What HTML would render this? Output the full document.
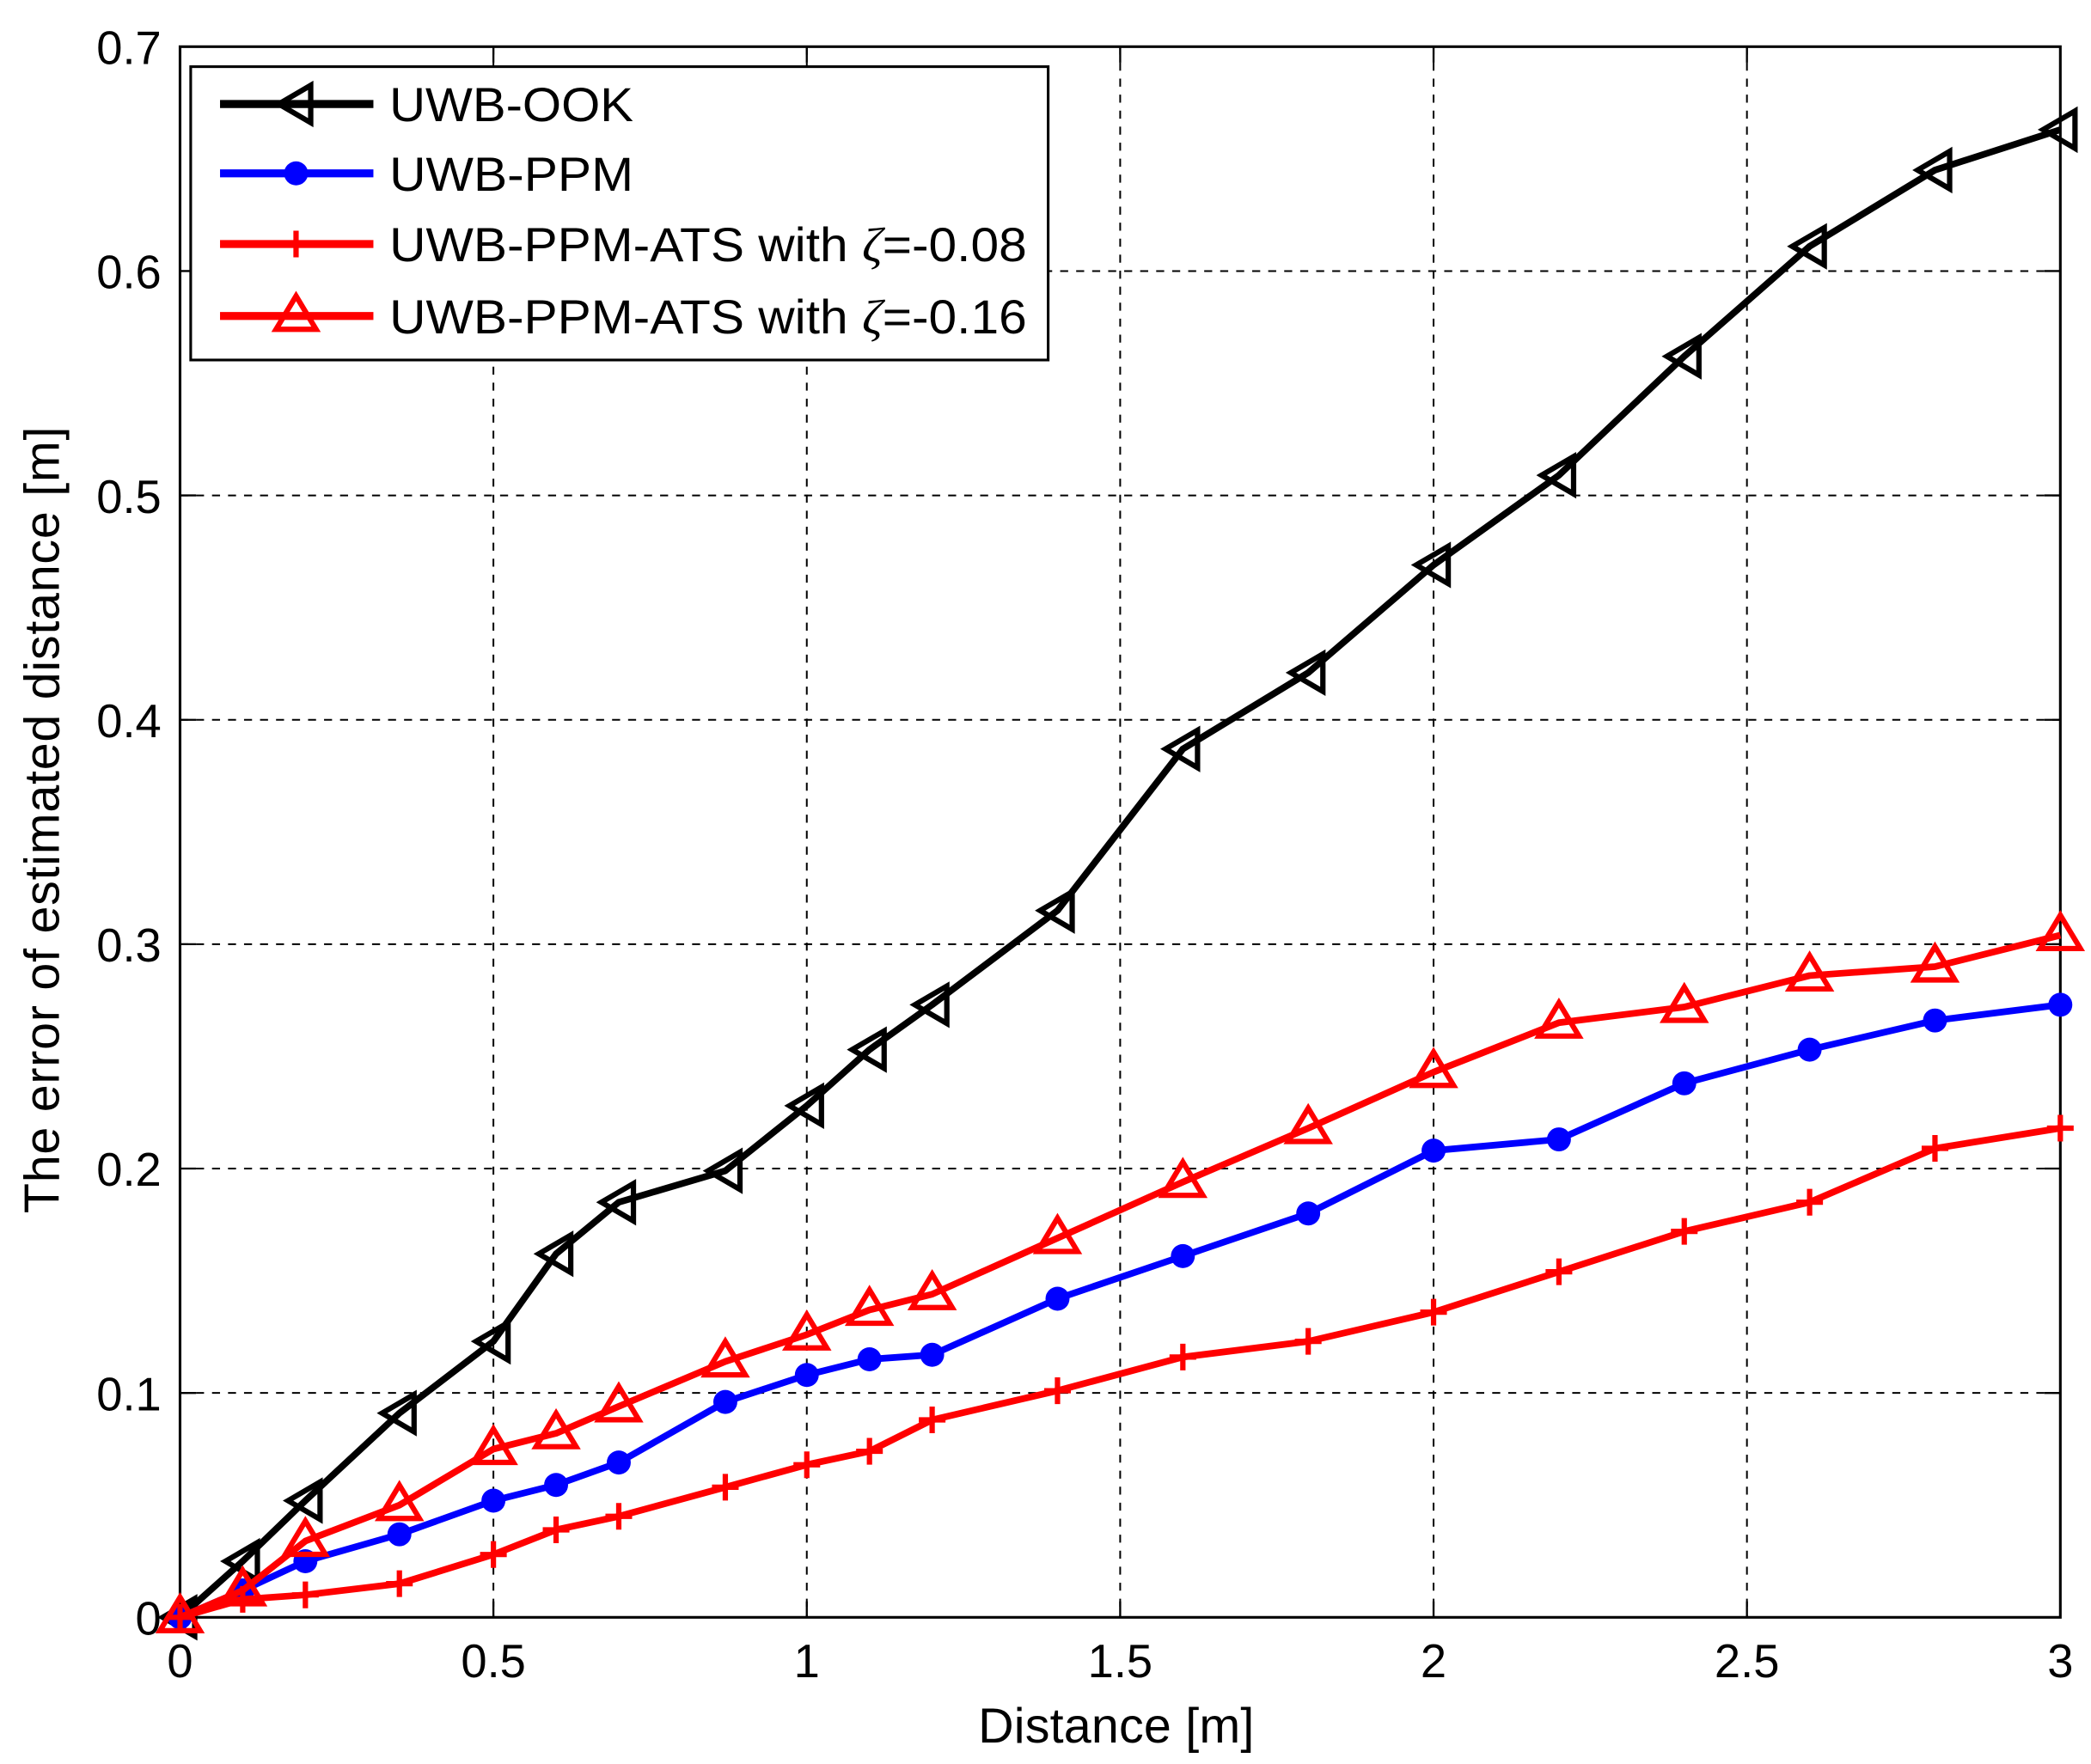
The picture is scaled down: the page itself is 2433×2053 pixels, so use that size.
<!DOCTYPE html>
<html><head><meta charset="utf-8"><style>
html,body{margin:0;padding:0;background:#fff;}
svg{display:block;}
text{font-family:"Liberation Sans",sans-serif;fill:#000;}
</style></head><body>
<svg id="s" width="2433" height="2053" viewBox="0 0 1568 1323" preserveAspectRatio="none" xmlns="http://www.w3.org/2000/svg"></svg>
<script>
const L=135,R=1545,T=35,B=1213;
const X=v=>L+(R-L)*v/3, Y=v=>B-(B-T)*v/0.7;
let h='';
for(let i=1;i<6;i++){let x=X(i*0.5);h+=`<line x1="${x}" y1="${T}" x2="${x}" y2="${B}" stroke="#000" stroke-width="1.3" stroke-dasharray="6,6"/>`;}
for(let i=1;i<7;i++){let y=Y(i*0.1);h+=`<line x1="${L}" y1="${y}" x2="${R}" y2="${y}" stroke="#000" stroke-width="1.3" stroke-dasharray="6,6"/>`;}
h+=`<rect x="${L}" y="${T}" width="${R-L}" height="${B-T}" fill="none" stroke="#000" stroke-width="2"/>`;
for(let i=0;i<=6;i++){let x=X(i*0.5);h+=`<line x1="${x}" y1="${B}" x2="${x}" y2="${B-12}" stroke="#000" stroke-width="1.5"/><line x1="${x}" y1="${T}" x2="${x}" y2="${T+12}" stroke="#000" stroke-width="1.5"/>`;
 h+=`<text x="${x}" y="1258" font-size="35" text-anchor="middle">${[0,0.5,1,1.5,2,2.5,3][i]}</text>`;}
for(let i=0;i<=7;i++){let y=Y(i*0.1);h+=`<line x1="${L}" y1="${y}" x2="${L+12}" y2="${y}" stroke="#000" stroke-width="1.5"/><line x1="${R}" y1="${y}" x2="${R-12}" y2="${y}" stroke="#000" stroke-width="1.5"/>`;
 h+=`<text x="121" y="${y+13}" font-size="35" text-anchor="end">${i==0?'0':(i/10).toFixed(1)}</text>`;}
h+=`<text x="837" y="1307" font-size="37" text-anchor="middle" textLength="207">Distance [m]</text>`;
h+=`<text transform="translate(44,615) rotate(-90)" font-size="37" text-anchor="middle" textLength="590">The error of estimated distance [m]</text>`;
const xs=[0,0.1,0.2,0.35,0.5,0.6,0.7,0.87,1,1.1,1.2,1.4,1.6,1.8,2,2.2,2.4,2.6,2.8,3];
const S=[
 {c:'#000',m:'lt',y:[0,0.025,0.052,0.091,0.123,0.162,0.185,0.199,0.228,0.253,0.273,0.315,0.387,0.421,0.469,0.509,0.562,0.611,0.645,0.663]},
 {c:'#00f',m:'o',y:[0,0.012,0.025,0.037,0.052,0.059,0.069,0.096,0.108,0.115,0.117,0.142,0.161,0.180,0.208,0.213,0.238,0.253,0.266,0.273]},
 {c:'#f00',m:'+',y:[0,0.008,0.010,0.015,0.028,0.039,0.045,0.058,0.068,0.074,0.088,0.101,0.116,0.123,0.136,0.154,0.172,0.185,0.209,0.218]},
 {c:'#f00',m:'^',y:[0,0.012,0.034,0.050,0.075,0.082,0.094,0.114,0.126,0.137,0.144,0.169,0.194,0.218,0.243,0.265,0.272,0.286,0.290,0.304]}];
function mk(m,x,y,c){
 if(m=='lt')return `<polygon points="${x-13},${y} ${x+11},${y-14} ${x+11},${y+14}" fill="none" stroke="${c}" stroke-width="4"/>`;
 if(m=='o')return `<circle cx="${x}" cy="${y}" r="9" fill="${c}"/>`;
 if(m=='+')return `<path d="M${x-10},${y}H${x+10}M${x},${y-10}V${y+10}" stroke="${c}" stroke-width="4"/>`;
 return `<polygon points="${x},${y-15} ${x+15},${y+10} ${x-15},${y+10}" fill="none" stroke="${c}" stroke-width="4"/>`;
}
S.forEach(s=>{let p=xs.map((x,i)=>X(x)+','+Y(s.y[i])).join(' ');
 h+=`<polyline points="${p}" fill="none" stroke="${s.c}" stroke-width="5" stroke-linejoin="round"/>`;
 xs.forEach((x,i)=>h+=mk(s.m,X(x),Y(s.y[i]),s.c));});
h+=`<rect x="143" y="50" width="643" height="220" fill="#fff" stroke="#000" stroke-width="2"/>`;
const lab=['UWB-OOK','UWB-PPM','UWB-PPM-ATS with <tspan font-family="Liberation Serif" font-style="italic">ζ</tspan>=-0.08','UWB-PPM-ATS with <tspan font-family="Liberation Serif" font-style="italic">ζ</tspan>=-0.16'];
const tl=[183,183,478,478];
[78,130,183,237].forEach((y,i)=>{let s=S[i];h+=`<line x1="165" y1="${y}" x2="280" y2="${y}" stroke="${s.c}" stroke-width="6"/>`+mk(s.m,222,y,s.c)+`<text x="292" y="${y+13}" font-size="36" textLength="${tl[i]}" lengthAdjust="spacingAndGlyphs">${lab[i]}</text>`;});
document.getElementById('s').innerHTML=h;
</script>
</body></html>
